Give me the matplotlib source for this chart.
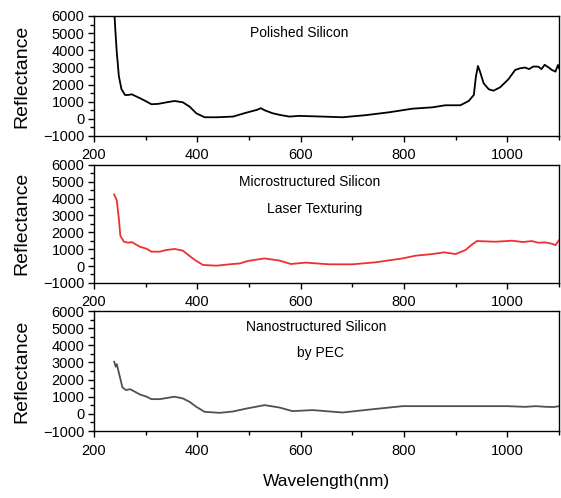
import matplotlib
matplotlib.use("Agg")
import matplotlib.pyplot as plt
from matplotlib.ticker import MultipleLocator

plt.rcParams["font.family"] = ["Liberation Sans", "DejaVu Sans"]

# Polished silicon (black)
pol_x = [239, 241, 244, 248, 253, 260, 266, 273, 289, 302, 311, 324, 340, 356, 372, 385,
         398, 414, 437, 469, 495, 515, 523, 530, 545, 559, 578, 597, 642, 681, 725, 771, 816,
         855, 880, 909, 925, 935, 939, 943, 947, 954, 964, 973, 986, 1002, 1015,
         1025, 1034, 1042, 1050, 1060, 1066, 1072, 1080, 1086, 1093, 1096, 1098, 1100]
pol_y = [6400, 5300, 3900, 2500, 1740, 1390, 1390, 1430, 1200, 1000, 850, 870, 960, 1040, 960, 710,
         320, 90, 90, 130, 360, 520, 620, 500, 330, 230, 130, 170, 130, 90, 210, 380, 590,
         670, 790, 790, 1040, 1390, 2460, 3080, 2750, 2070, 1720, 1640, 1840, 2310, 2850,
         2950, 2990, 2900, 3050, 3040, 2900, 3150, 2990, 2850, 2750, 3000, 3140, 2950]

# Microstructured silicon, laser texturing (red)
mic_x = [239, 244, 248, 251, 258, 266, 273, 289, 302, 311, 327, 340, 356, 372, 385,
         398, 411, 437, 469, 482, 498, 530, 559, 581, 610, 655, 700, 745, 797, 822,
         855, 877, 900, 919, 930, 941, 977, 1009, 1030, 1047, 1060, 1073, 1085, 1093, 1100]
mic_y = [4240, 3910, 2820, 1780, 1440, 1380, 1420, 1140, 1020, 850, 850, 950, 1010, 910, 590,
         300, 60, 20, 120, 150, 300, 450, 320, 120, 200, 100, 100, 220, 450, 610,
         710, 810, 710, 950, 1240, 1480, 1440, 1500, 1420, 1480, 1380, 1400, 1330, 1240, 1540]

# Nanostructured silicon by PEC (gray)
nan_x = [239, 242, 244, 250, 255, 262, 270, 289, 302, 311, 327, 356, 372, 385,
         398, 414, 443, 469, 495, 530, 559, 584, 623, 681, 739, 797, 880, 1000,
         1034, 1055, 1075, 1090, 1100]
nan_y = [3040, 2750, 2900, 2160, 1540, 1390, 1440, 1130, 1000, 860, 860, 1000, 900, 700,
         410, 120, 60, 140, 310, 510, 370, 160, 220, 80, 270, 450, 450, 450,
         410, 450, 410, 400, 450]

panels = [
    (pol_x, pol_y, "black", [("Polished Silicon", 597, 5000)], [0.1676, 0.727, 0.829, 0.241]),
    (mic_x, mic_y, "#ee3030", [("Microstructured Silicon", 617, 5000), ("Laser Texturing", 626, 3400)],
     [0.1676, 0.432, 0.829, 0.237]),
    (nan_x, nan_y, "#505050", [("Nanostructured Silicon", 630, 5050), ("by PEC", 638, 3550)],
     [0.1676, 0.1345, 0.829, 0.241]),
]

fig = plt.figure(figsize=(5.61, 4.98), dpi=100)
for xs, ys, color, notes, pos in panels:
    ax = fig.add_axes(pos)
    ax.plot(xs, ys, color=color, lw=1.3)
    ax.set_xlim(200, 1100)
    ax.set_ylim(-1000, 6000)
    ax.xaxis.set_major_locator(MultipleLocator(200))
    ax.xaxis.set_minor_locator(MultipleLocator(100))
    ax.yaxis.set_major_locator(MultipleLocator(1000))
    ax.yaxis.set_minor_locator(MultipleLocator(500))
    ax.tick_params(which="major", length=4, width=1, labelsize=10.5)
    ax.tick_params(axis="x", which="major", pad=5)
    ax.tick_params(axis="y", which="major", pad=3)
    ax.tick_params(which="minor", length=3, width=1)
    for s in ax.spines.values():
        s.set_linewidth(1)
    ax.set_ylabel("Reflectance", fontsize=14, labelpad=9)
    for txt, tx, ty in notes:
        ax.text(tx, ty, txt, ha="center", va="center", fontsize=10)
    last = ax

last.set_xlabel("Wavelength(nm)", fontsize=12.5, labelpad=12)

fig.savefig("out.png", dpi=100)
